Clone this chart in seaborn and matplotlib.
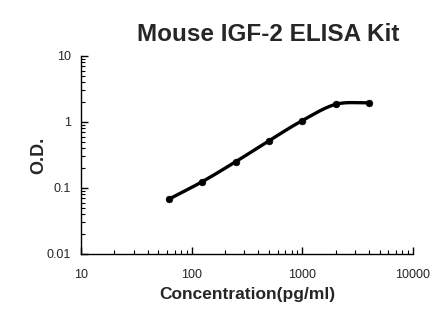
import numpy as np
import pandas as pd
import seaborn as sns
import matplotlib
matplotlib.use("Agg")
import matplotlib.pyplot as plt
from matplotlib.ticker import LogLocator, FixedLocator, FixedFormatter, NullFormatter

concentration = [62.5, 125, 250, 500, 1000, 2000, 4000]
od = [0.068, 0.125, 0.25, 0.52, 1.05, 1.85, 1.96]
x_ticks = [10, 100, 1000, 10000]
x_labels = ["10", "100", "1000", "10000"]
y_ticks = [0.01, 0.1, 1, 10]
y_labels = ["0.01", "0.1", "1", "10"]

sns.set_style("white")
plt.rcParams["font.family"] = ["Liberation Sans", "DejaVu Sans"]

fig = plt.figure(figsize=(4.46, 3.26), dpi=100)
ax = fig.add_axes([0.1816, 0.2209, 0.7444, 0.6074])

# smooth curve (Catmull-Rom in log-log space, like Excel smoothing)
lx = np.log10(concentration)
ly = np.log10(od)
n = len(lx)
tx, ty = [], []
for i in range(n - 1):
    if i == 0:
        m0x, m0y = lx[1] - lx[0], ly[1] - ly[0]
    else:
        m0x, m0y = (lx[i + 1] - lx[i - 1]) / 2, (ly[i + 1] - ly[i - 1]) / 2
    if i + 1 == n - 1:
        m1x, m1y = lx[-1] - lx[-2], ly[-1] - ly[-2]
    else:
        m1x, m1y = (lx[i + 2] - lx[i]) / 2, (ly[i + 2] - ly[i]) / 2
    t = np.linspace(0, 1, 40)
    h00 = 2 * t**3 - 3 * t**2 + 1
    h10 = t**3 - 2 * t**2 + t
    h01 = -2 * t**3 + 3 * t**2
    h11 = t**3 - t**2
    tx.extend(h00 * lx[i] + h10 * m0x + h01 * lx[i + 1] + h11 * m1x)
    ty.extend(h00 * ly[i] + h10 * m0y + h01 * ly[i + 1] + h11 * m1y)
curve = pd.DataFrame({"x": 10 ** np.array(tx), "y": 10 ** np.array(ty)})
pts = pd.DataFrame({"x": concentration, "y": od})

ax.set_xscale("log")
ax.set_yscale("log")
ax.plot(curve["x"], curve["y"], color="black", lw=2.4, solid_capstyle="round")
sns.scatterplot(data=pts, x="x", y="y", ax=ax, color="black", s=24, edgecolor="black", zorder=3)

ax.set_xlim(10, 10000)
ax.set_ylim(0.01, 10)
ax.xaxis.set_major_locator(FixedLocator(x_ticks))
ax.xaxis.set_major_formatter(FixedFormatter(x_labels))
ax.yaxis.set_major_locator(FixedLocator(y_ticks))
ax.yaxis.set_major_formatter(FixedFormatter(y_labels))
ax.xaxis.set_minor_locator(LogLocator(base=10, subs=np.arange(2, 10), numticks=20))
ax.yaxis.set_minor_locator(LogLocator(base=10, subs=np.arange(2, 10), numticks=20))
ax.xaxis.set_minor_formatter(NullFormatter())
ax.yaxis.set_minor_formatter(NullFormatter())

for s in ["top", "right"]:
    ax.spines[s].set_visible(False)
for s in ["left", "bottom"]:
    ax.spines[s].set_visible(True)
    ax.spines[s].set_color("black")
    ax.spines[s].set_linewidth(1.0)

ax.tick_params(axis="both", which="major", direction="in", length=5, width=1, color="black",
               labelsize=9, bottom=True, left=True)
ax.tick_params(axis="both", which="minor", direction="in", length=3, width=0.8, color="black",
               bottom=True, left=True)
ax.tick_params(axis="x", which="major", pad=11)
ax.tick_params(axis="y", which="major", pad=7)

ax.set_xlabel("Concentration(pg/ml)", fontsize=12.5, fontweight="bold", labelpad=4)
ax.set_ylabel("O.D.", fontsize=13, fontweight="bold", labelpad=0)
fig.text(0.602, 0.893, "Mouse IGF-2 ELISA Kit", fontsize=17.5, fontweight="bold",
         ha="center", va="center")

fig.savefig("out.png", dpi=100, facecolor="white")
